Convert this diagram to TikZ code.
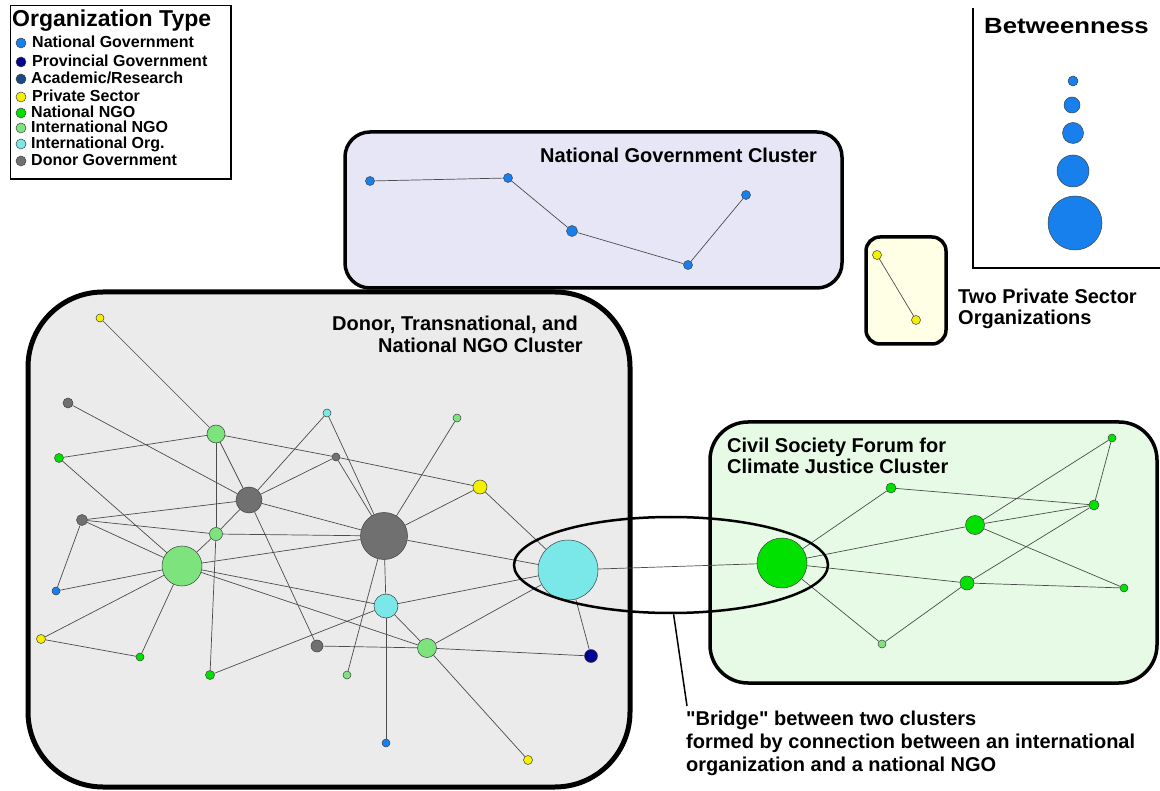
\documentclass[tikz,border=0pt]{standalone}
\usepackage{fontspec}
\setmainfont{Liberation Sans}
\usetikzlibrary{shapes.geometric}
\definecolor{cNG}{RGB}{24,128,236}
\definecolor{cPG}{RGB}{0,0,145}
\definecolor{cAR}{RGB}{25,75,130}
\definecolor{cPS}{RGB}{245,240,0}
\definecolor{cNN}{RGB}{0,225,0}
\definecolor{cIN}{RGB}{125,228,125}
\definecolor{cIO}{RGB}{122,232,232}
\definecolor{cDG}{RGB}{112,112,112}
\definecolor{bgDonor}{RGB}{235,235,235}
\definecolor{bgNat}{RGB}{230,230,247}
\definecolor{bgPriv}{RGB}{255,255,230}
\definecolor{bgCiv}{RGB}{230,250,230}
\pgfdeclarelayer{bg}
\pgfdeclarelayer{edges}
\pgfsetlayers{bg,edges,main}
\tikzset{
  nd/.style={circle, draw=black!75, line width=0.5pt, inner sep=0pt, minimum size=#1},
  ng/.style={nd=#1, fill=cNG},
  pg/.style={nd=#1, fill=cPG},
  ar/.style={nd=#1, fill=cAR},
  ps/.style={nd=#1, fill=cPS},
  nn/.style={nd=#1, fill=cNN},
  in/.style={nd=#1, fill=cIN},
  io/.style={nd=#1, fill=cIO},
  dg/.style={nd=#1, fill=cDG},
  ed/.style={draw=black!70, line width=0.7pt},
  box/.style={draw=black, line width=3.5pt},
  ttl/.style={font=\fontsize{20}{23}\selectfont\bfseries, inner sep=0pt},
  leg/.style={font=\fontsize{16}{18}\selectfont\bfseries, inner sep=0pt, anchor=base west},
}
\begin{document}
\begin{tikzpicture}[x=1pt,y=-1pt]
\useasboundingbox (0,0) rectangle (1160,791);
% ---------- boxes ----------
\begin{pgfonlayer}{bg}
\fill[white] (0,0) rectangle (1160,791);
\draw[box, line width=5pt, fill=bgDonor, rounded corners=75] (28,292) rectangle (630,787);
\draw[box, fill=bgNat, rounded corners=25] (345,132) rectangle (842,288);
\draw[box, fill=bgPriv, rounded corners=14] (866,237) rectangle (946,344);
\draw[box, fill=bgCiv, rounded corners=38] (710,422) rectangle (1157,683);
\draw[line width=0.8pt] (10,5) rectangle (231,179);
\draw[line width=2.5pt] (231,5) -- (231,179) -- (10,179);
\draw[line width=2.5pt] (973,8) -- (973,268) -- (1160,268);
\end{pgfonlayer}
% ---------- legend ----------
\node[ttl, font=\fontsize{23}{25}\selectfont\bfseries, anchor=base west] (legT) at (12,27) {Organization Type};
\node[ng=10] (l1) at (21,43) {}; \node[leg] (lt1) at (32,48) {National Government};
\node[pg=10] (l2) at (21,62) {}; \node[leg] (lt2) at (32,67) {Provincial Government};
\node[ar=10] (l3) at (21,79) {}; \node[leg] (lt3) at (31,84) {Academic/Research};
\node[ps=10] (l4) at (21,97) {}; \node[leg] (lt4) at (32,102) {Private Sector};
\node[nn=10] (l5) at (21,113) {}; \node[leg] (lt5) at (31,118) {National NGO};
\node[in=10] (l6) at (21,128) {}; \node[leg] (lt6) at (31,133) {International NGO};
\node[io=10] (l7) at (21,144) {}; \node[leg] (lt7) at (31,149) {International Org.};
\node[dg=10] (l8) at (21,161) {}; \node[leg] (lt8) at (31,166) {Donor Government};
% ---------- betweenness ----------
\node[ttl, font=\fontsize{22}{24}\selectfont\bfseries, anchor=base west] (betT) at (984,34) {\scalebox{1.17}[1]{Betweenness}};
\node[ng=10] (b1) at (1073,81) {};
\node[ng=16] (b2) at (1072,105) {};
\node[ng=21] (b3) at (1073,133) {};
\node[ng=32] (b4) at (1073,171) {};
\node[ng=54] (b5) at (1075,223) {};
% ---------- national government cluster ----------
\node[ttl, anchor=base west] (natT) at (540,163) {National Government Cluster};
\node[ng=9] (n1) at (370,181) {};
\node[ng=9] (n2) at (508,178) {};
\node[ng=11] (n3) at (572,231) {};
\node[ng=9] (n4) at (688,265) {};
\node[ng=9] (n5) at (746,195) {};
% ---------- private sector ----------
\node[ps=9] (p1) at (877,255) {};
\node[ps=9] (p2) at (916,320) {};
\node[ttl, anchor=base west] (privT1) at (958,304) {Two Private Sector};
\node[ttl, anchor=base west] (privT2) at (958,325) {Organizations};
% ---------- donor cluster ----------
\node[ttl, anchor=base west] (donT1) at (332,331) {Donor, Transnational, and};
\node[ttl, anchor=base west] (donT2) at (378,353) {National NGO Cluster};
\node[ps=8] (y1) at (100,318) {};
\node[dg=10] (g1) at (68,403) {};
\node[nn=9] (nn1) at (59,458) {};
\node[in=18] (in1) at (216,434) {};
\node[io=8] (io1) at (327,413) {};
\node[in=8] (in2) at (457,418) {};
\node[dg=8] (dg2) at (336,457) {};
\node[dg=26] (dg3) at (249,500) {};
\node[dg=11] (dg4) at (82,520) {};
\node[in=13] (in3) at (216,534) {};
\node[ps=14] (y2) at (480,487) {};
\node[dg=47] (dgb) at (384,536) {};
\node[in=40] (inb) at (182,566) {};
\node[ng=8] (ng1) at (56,591) {};
\node[io=60] (iob) at (568,570) {};
\node[io=24] (io2) at (386,606) {};
\node[ps=9] (y3) at (41,639) {};
\node[nn=8] (nn2) at (140,657) {};
\node[dg=12] (dg5) at (317,646) {};
\node[in=19] (in4) at (427,648) {};
\node[nn=9] (nn3) at (210,675) {};
\node[in=8] (in5) at (347,675) {};
\node[pg=13] (pg) at (591,656) {};
\node[ng=8] (ng2) at (386,743) {};
\node[ps=9] (y4) at (528,760) {};
% ---------- civil society cluster ----------
\node[ttl, anchor=base west] (civT1) at (727,453) {Civil Society Forum for};
\node[ttl, anchor=base west] (civT2) at (727,474) {Climate Justice Cluster};
\node[nn=50] (cb) at (782,563) {};
\node[nn=10] (c1) at (891,488) {};
\node[nn=19] (c2) at (975,525) {};
\node[nn=8] (c3) at (1112,438) {};
\node[nn=10] (c4) at (1094,505) {};
\node[nn=14] (c5) at (967,583) {};
\node[nn=8] (c6) at (1124,588) {};
\node[in=8] (c7) at (882,644) {};
% ---------- edges ----------
\begin{pgfonlayer}{edges}
\draw[ed] (n1) -- (n2) -- (n3) -- (n4) -- (n5);
\draw[ed] (p1) -- (p2);
\foreach \a/\b in {y1/in1, g1/dg3, nn1/in1, nn1/inb, in1/dg2, in1/dg3, in1/in3,
  io1/dg3, io1/dgb, dg2/dg3, dg2/dgb, dg2/y2, in2/dgb, y2/dgb, y2/iob,
  dg3/dgb, dg3/dg4, dg3/in3, dg3/dg5, dg4/in3, dg4/inb, dg4/ng1,
  in3/inb, in3/dgb, in3/nn3, inb/dgb, inb/io2, inb/in4, inb/ng1, inb/y3, inb/nn2,
  y3/nn2, nn3/io2, dgb/iob, dgb/io2, dgb/in5, io2/iob, io2/in4, io2/ng2,
  dg5/in4, in4/iob, in4/pg, in4/y4, iob/pg, iob/cb,
  cb/c1, cb/c2, cb/c5, cb/c7, c1/c4, c2/c3, c2/c4, c2/c6, c5/c4, c5/c6, c7/c5, c3/c4}
  {\draw[ed] (\a) -- (\b);}
\end{pgfonlayer}
% ---------- bridge ----------
\node[ellipse, draw=black, line width=2.5pt, inner sep=0pt, minimum width=314, minimum height=96] (bridge) at (671,565) {};
\coordinate (ptr) at (687,706);
\draw[line width=1.5pt] (bridge.-87) -- (ptr);
\node[ttl, anchor=base west] (brT1) at (686,725) {\textquotedbl Bridge\textquotedbl{} between two clusters};
\node[ttl, anchor=base west] (brT2) at (686,748) {formed by connection between an international};
\node[ttl, anchor=base west] (brT3) at (686,771) {organization and a national NGO};
\end{tikzpicture}
\end{document}
